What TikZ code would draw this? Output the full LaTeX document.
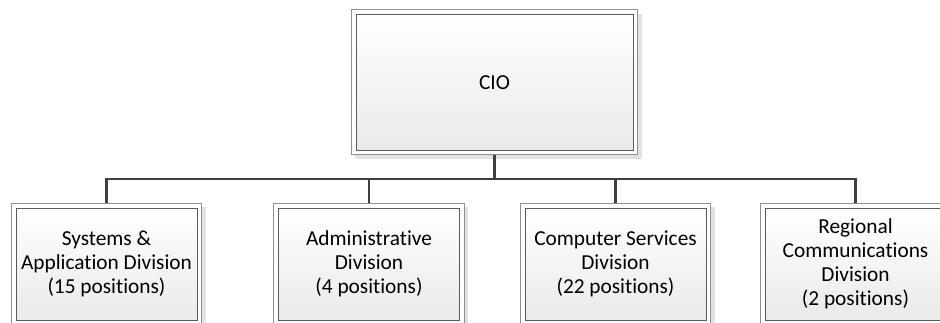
\documentclass[tikz,border=0pt]{standalone}
\usepackage{fontspec}
\setmainfont[Ligatures={NoCommon,NoContextual},Contextuals=NoAlternate]{Carlito}
\usetikzlibrary{backgrounds}

\definecolor{edgedark}{HTML}{5A5A5A}
\definecolor{edgelight}{HTML}{909090}
\definecolor{boxbottom}{HTML}{EAEAEA}
\definecolor{shadowgray}{HTML}{E2E2E2}
\definecolor{linkgray}{HTML}{404040}

\tikzstyle{unit} = [draw=edgedark, line width=0.6pt, rectangle, top color=white,
    bottom color=boxbottom, align=center, inner xsep=1pt,
    font=\fontsize{16}{18}\selectfont, outer sep=3.6pt]
\tikzstyle{division} = [unit, minimum width=135.75pt, minimum height=84pt]
\tikzstyle{frame} = [draw=edgelight, line width=0.6pt, fill=white]
\tikzstyle{link} = [draw=linkgray, line width=1.9pt]

\begin{document}
\begin{tikzpicture}[x=0.75pt, y=-0.75pt]
            \useasboundingbox (0,0) rectangle (940,322);
            \node[unit, minimum width=207.75pt, minimum height=101.6pt]
                (cio) at (494.5,82.3) {CIO};
            \node[division] (sys) at (106.5,264) {Systems \& \\ Application Division \\ (15 positions)};
            \node[division] (admin) at (369,264) {Administrative \\ Division \\ (4 positions)};
            \node[division] (comp) at (615.5,264) {Computer Services \\ Division \\ (22 positions)};
            \node[division] (comm) at (855.5,264) {Regional \\ Communications \\ Division \\ (2 positions)};
            % outer frames with their shadows, behind the boxes
            \begin{scope}[on background layer]
                \foreach \n in {cio,sys,admin,comp,comm} {
                    \fill[shadowgray] ([shift={(3pt,-3pt)}]\n.north west)
                        rectangle ([shift={(3pt,-3pt)}]\n.south east);
                    \draw[frame] (\n.north west) rectangle (\n.south east);
                }
            \end{scope}
            % reporting lines
            \coordinate (bus) at (494.5,179);
            \draw[link] (cio.south) -- (bus);
            \foreach \n in {sys,admin,comp,comm}
                \draw[link] (bus) -| (\n.north);
        \end{tikzpicture}
\end{document}
